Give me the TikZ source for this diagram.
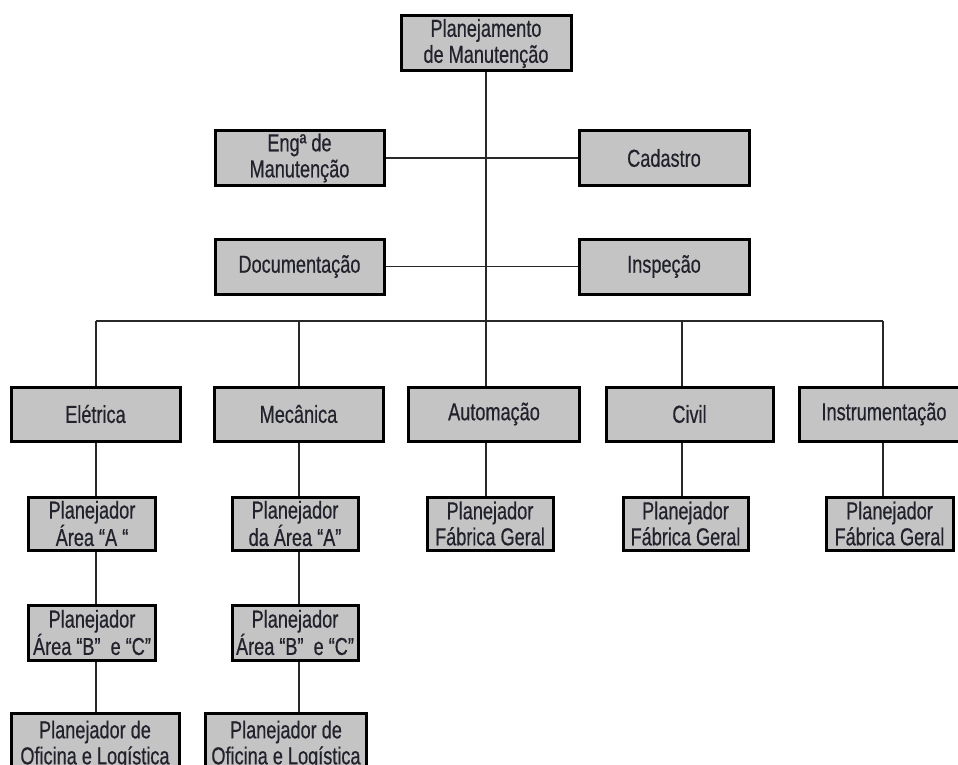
\documentclass[tikz,border=0pt]{standalone}
\usepackage{fontspec}
\setmainfont[FakeStretch=0.74,FakeBold=0.5]{Liberation Sans}
\definecolor{boxgray}{RGB}{196,196,196}
\definecolor{inkdark}{RGB}{34,34,44}
\definecolor{linkgray}{RGB}{40,40,40}
\begin{document}
\begin{tikzpicture}[x=1pt,y=-1pt,
  box/.style={draw=black, line width=3pt, fill=boxgray, text=inkdark,
    inner sep=0pt, align=center, font=\fontsize{24.5}{26}\selectfont},
  link/.style={draw=linkgray, line width=1.4pt}]
\useasboundingbox (0,0) rectangle (958,765);
\clip (0,0) rectangle (958,765);

% head of the chart
\node[box, minimum width=170pt, minimum height=55pt] (top) at (486,43.5) {Planejamento\\de Manutenção};

% staff functions
\node[box, minimum width=169pt, minimum height=54pt] (eng)  at (299.5,158) {Engª de\\Manutenção};
\node[box, minimum width=170pt, minimum height=55pt] (cad)  at (664,158) {Cadastro};
\node[box, minimum width=169pt, minimum height=55pt] (doc)  at (299.5,266.5) {Documentação};
\node[box, minimum width=170pt, minimum height=55pt] (insp) at (664,266.5) {Inspeção};

% disciplines
\node[box, minimum width=169pt, minimum height=54pt] (ele)   at (95.5,414) {Elétrica};
\node[box, minimum width=169pt, minimum height=54pt] (mec)   at (298.5,414) {Mecânica};
\node[box, minimum width=171pt, minimum height=54pt] (aut)   at (494,414) {Automação};
\node[box, minimum width=167pt, minimum height=54pt] (civ)   at (689.5,414) {Civil};
\node[box, minimum width=170pt, minimum height=54pt] (instr) at (884,414) {Instrumentação};

% first level of planners
\node[box, minimum width=127pt, minimum height=53pt] (pa1) at (92,523.5) {Planejador\\Área “A “};
\node[box, minimum width=126pt, minimum height=53pt] (pa2) at (295,523.5) {Planejador\\da Área “A”};
\node[box, minimum width=126pt, minimum height=53pt] (pa3) at (490,523.5) {Planejador\\Fábrica Geral};
\node[box, minimum width=125pt, minimum height=53pt] (pa4) at (685.5,523.5) {Planejador\\Fábrica Geral};
\node[box, minimum width=127pt, minimum height=53pt] (pa5) at (889.5,523.5) {Planejador\\Fábrica Geral};

% second level of planners
\node[box, minimum width=127pt, minimum height=55pt] (pb1) at (92,632.5) {Planejador\\Área “B”~~e “C”};
\node[box, minimum width=126pt, minimum height=55pt] (pb2) at (295,632.5) {Planejador\\Área “B”~~e “C”};

% workshop and logistics planners
\node[box, minimum width=168pt, minimum height=64pt] (pc1) at (95,745) {Planejador de\\Oficina e Logística};
\node[box, minimum width=161pt, minimum height=64pt] (pc2) at (286,745) {Planejador de\\Oficina e Logística};

% trunk and staff links
\coordinate (hub) at (486,321);
\draw[link] (top.south) -- (hub);
\draw[link] (eng) -- (cad);
\draw[link] (doc) -- (insp);

% distribution bus
\coordinate (d1) at (96,321);
\coordinate (d2) at (299,321);
\coordinate (d4) at (682,321);
\coordinate (d5) at (883,321);
\draw[link] (d1) -- (d5);
\draw[link] (d1)  -- (d1 |- ele.north);
\draw[link] (d2)  -- (d2 |- mec.north);
\draw[link] (hub) -- (hub |- aut.north);
\draw[link] (d4)  -- (d4 |- civ.north);
\draw[link] (d5)  -- (d5 |- instr.north);

% discipline columns
\draw[link] (d1 |- ele.south) -- (d1 |- pa1.north);
\draw[link] (d1 |- pa1.south) -- (d1 |- pb1.north);
\draw[link] (d1 |- pb1.south) -- (d1 |- pc1.north);
\draw[link] (d2 |- mec.south) -- (d2 |- pa2.north);
\draw[link] (d2 |- pa2.south) -- (d2 |- pb2.north);
\draw[link] (d2 |- pb2.south) -- (d2 |- pc2.north);
\draw[link] (hub |- aut.south) -- (hub |- pa3.north);
\draw[link] (d4 |- civ.south) -- (d4 |- pa4.north);
\draw[link] (d5 |- instr.south) -- (d5 |- pa5.north);
\end{tikzpicture}
\end{document}
